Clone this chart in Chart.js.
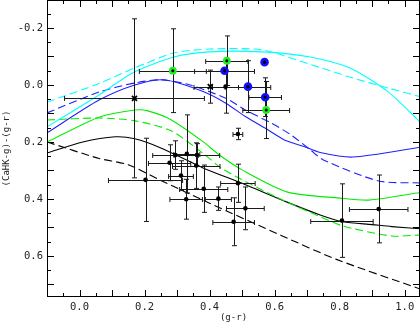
<!DOCTYPE html>
<html>
<head>
<meta charset="utf-8">
<script src="https://cdn.jsdelivr.net/npm/chart.js@4.4.0/dist/chart.umd.min.js"></script>
<style>
  body { margin: 0; background: #fff; }
</style>
</head>
<body>
<canvas id="chart" width="420" height="325"></canvas>
<script>
// model curves (g-r, (CaHK-g)-(g-r))
const cyanSolidX = [-0.10, 0.06, 0.17, 0.29, 0.40, 0.56, 0.71, 0.83, 0.95, 1.05];
const cyanSolidY = [0.147, 0.035, -0.046, -0.098, -0.116, -0.116, -0.098, -0.060, 0.025, 0.133];
const cyanDashX = [-0.10, 0.06, 0.17, 0.29, 0.40, 0.56, 0.71, 0.83, 0.95, 1.05];
const cyanDashY = [0.060, -0.005, -0.060, -0.112, -0.126, -0.123, -0.072, -0.028, 0.011, 0.042];
const blueSolidX = [-0.10, 0.06, 0.17, 0.26, 0.38, 0.45, 0.51, 0.58, 0.63, 0.69, 0.74, 0.84, 1.05];
const blueSolidY = [0.168, 0.053, 0.000, -0.018, 0.023, 0.064, 0.111, 0.158, 0.193, 0.216, 0.237, 0.253, 0.218];
const blueDashX = [-0.10, 0.06, 0.17, 0.25, 0.34, 0.45, 0.51, 0.59, 0.65, 0.71, 0.75, 0.92, 1.05];
const blueDashY = [0.098, 0.025, -0.007, -0.018, 0.000, 0.047, 0.088, 0.134, 0.175, 0.228, 0.263, 0.337, 0.344];
const greenSolidX = [-0.10, 0.06, 0.17, 0.21, 0.28, 0.38, 0.43, 0.50, 0.64, 0.80, 0.89, 1.05];
const greenSolidY = [0.200, 0.113, 0.088, 0.091, 0.121, 0.199, 0.246, 0.298, 0.376, 0.397, 0.404, 0.377];
const greenDashX = [-0.10, 0.06, 0.17, 0.28, 0.38, 0.44, 0.61, 0.74, 0.81, 0.96, 1.05];
const greenDashY = [0.123, 0.116, 0.126, 0.160, 0.240, 0.295, 0.396, 0.462, 0.495, 0.530, 0.526];
const blackSolidX = [-0.10, 0.01, 0.11, 0.17, 0.25, 0.38, 0.50, 0.64, 0.74, 0.81, 0.90, 0.96, 1.05];
const blackSolidY = [0.239, 0.200, 0.182, 0.189, 0.221, 0.291, 0.345, 0.412, 0.456, 0.480, 0.490, 0.497, 0.505];
const blackDashX = [-0.10, 0.06, 0.15, 0.25, 0.40, 0.62, 0.79, 1.05];
const blackDashY = [0.200, 0.258, 0.280, 0.335, 0.415, 0.528, 0.612, 0.717];

// stars with error bars
const dotX = [0.449, 0.487, 0.203, 0.295, 0.330, 0.361, 0.277, 0.312, 0.359, 0.382, 0.328, 0.427, 0.487, 0.510, 0.474, 0.807, 0.920];
const dotY = [0.006, 0.172, 0.333, 0.246, 0.242, 0.246, 0.273, 0.318, 0.283, 0.364, 0.401, 0.399, 0.345, 0.433, 0.480, 0.476, 0.435];
const dotXErr = [0.040, 0.015, 0.114, 0.070, 0.040, 0.070, 0.065, 0.038, 0.073, 0.074, 0.050, 0.040, 0.053, 0.058, 0.064, 0.096, 0.090];
const dotYErr = [0.093, 0.020, 0.146, 0.050, 0.137, 0.040, 0.063, 0.052, 0.080, 0.083, 0.070, 0.041, 0.067, 0.075, 0.084, 0.129, 0.119];

const crossX = [0.169, 0.402];
const crossY = [0.047, 0.006];
const crossXErr = [0.215, 0.050];
const crossYErr = [0.279, 0.058];

const blueX = [0.446, 0.569, 0.518, 0.571];
const blueY = [-0.050, -0.080, 0.006, 0.043];
const blueXErr = [0.092, 0, 0.070, 0.050];
const blueYErr = [0, 0, 0.091, 0.068];

const greenX = [0.287, 0.453, 0.574];
const greenY = [-0.050, -0.085, 0.088];
const greenXErr = [0.103, 0.065, 0.072];
const greenYErr = [0.147, 0.087, 0.100];

function pts(xs, ys) {
  return xs.map((x, i) => ({ x: x, y: ys[i] }));
}

function line(xs, ys, color, dashed) {
  return {
    type: 'line',
    data: pts(xs, ys),
    borderColor: color,
    borderWidth: 1.1,
    borderDash: dashed ? [8, 4] : [],
    pointRadius: 0,
    tension: 0.25,
    fill: false
  };
}

const errGroups = [
  [dotX, dotY, dotXErr, dotYErr],
  [crossX, crossY, crossXErr, crossYErr],
  [blueX, blueY, blueXErr, blueYErr],
  [greenX, greenY, greenXErr, greenYErr]
];

// error bars go between the curves and the symbols
const errorBars = {
  id: 'errorBars',
  afterDatasetDraw(chart, args) {
    if (args.index !== 4) return;
    const { ctx, scales: { x, y } } = chart;
    const cap = 2.5;
    ctx.save();
    ctx.strokeStyle = '#1a1a1a';
    ctx.lineWidth = 1;
    ctx.beginPath();
    errGroups.forEach(g => {
      g[0].forEach((xv, i) => {
        const px = Math.round(x.getPixelForValue(xv)) + 0.5;
        const py = Math.round(y.getPixelForValue(g[1][i])) + 0.5;
        if (g[2][i] > 0) {
          const x1 = x.getPixelForValue(xv - g[2][i]);
          const x2 = x.getPixelForValue(xv + g[2][i]);
          ctx.moveTo(x1, py); ctx.lineTo(x2, py);
          ctx.moveTo(x1, py - cap); ctx.lineTo(x1, py + cap);
          ctx.moveTo(x2, py - cap); ctx.lineTo(x2, py + cap);
        }
        if (g[3][i] > 0) {
          const y1 = y.getPixelForValue(g[1][i] - g[3][i]);
          const y2 = y.getPixelForValue(g[1][i] + g[3][i]);
          ctx.moveTo(px, y1); ctx.lineTo(px, y2);
          ctx.moveTo(px - cap, y1); ctx.lineTo(px + cap, y1);
          ctx.moveTo(px - cap, y2); ctx.lineTo(px + cap, y2);
        }
      });
    });
    ctx.stroke();
    ctx.restore();
  }
};

// frame with inward ticks on all four sides
const frameTicks = {
  id: 'frameTicks',
  afterDraw(chart) {
    const { ctx, chartArea: a, scales: { x, y } } = chart;
    ctx.save();
    ctx.strokeStyle = '#000';
    ctx.lineWidth = 1;
    ctx.strokeRect(a.left + 0.5, a.top + 0.5, a.right - a.left - 1, a.bottom - a.top - 1);
    ctx.beginPath();
    for (let k = Math.ceil(x.min / 0.05 - 1e-6); k * 0.05 <= x.max + 1e-6; k++) {
      const p = Math.round(x.getPixelForValue(k * 0.05)) + 0.5;
      const len = k % 2 === 0 ? 7 : 4;
      ctx.moveTo(p, a.bottom); ctx.lineTo(p, a.bottom - len);
      ctx.moveTo(p, a.top); ctx.lineTo(p, a.top + len);
    }
    for (let k = Math.ceil(y.min / 0.05 - 1e-6); k * 0.05 <= y.max + 1e-6; k++) {
      const p = Math.round(y.getPixelForValue(k * 0.05)) + 0.5;
      const len = k % 2 === 0 ? 7 : 4;
      ctx.moveTo(a.left, p); ctx.lineTo(a.left + len, p);
      ctx.moveTo(a.right, p); ctx.lineTo(a.right - len, p);
    }
    ctx.stroke();
    ctx.restore();
  }
};

const tickFont = { family: 'DejaVu Sans Mono', size: 10.5 };
const titleFont = { family: 'DejaVu Sans Mono', size: 9 };

new Chart(document.getElementById('chart'), {
  type: 'scatter',
  data: {
    datasets: [
      { data: pts(blueX, blueY), pointStyle: 'circle', pointRadius: 3, backgroundColor: '#000', borderColor: '#1010ff', pointBorderWidth: 2.6 },
      { data: pts(greenX, greenY), pointStyle: 'circle', pointRadius: 2.7, backgroundColor: '#000', borderColor: '#22ee22', pointBorderWidth: 2.4 },
      { data: pts(crossX, crossY), pointStyle: 'crossRot', pointRadius: 3.5, borderColor: '#000', pointBorderWidth: 1.8 },
      { data: pts(dotX, dotY), pointStyle: 'circle', pointRadius: 2.3, backgroundColor: '#000', borderColor: '#000', pointBorderWidth: 0 },
      line(cyanSolidX, cyanSolidY, '#00ffff', false),
      line(cyanDashX, cyanDashY, '#00ffff', true),
      line(blueSolidX, blueSolidY, '#2020ff', false),
      line(blueDashX, blueDashY, '#2020ff', true),
      line(greenSolidX, greenSolidY, '#00ee00', false),
      line(greenDashX, greenDashY, '#00ee00', true),
      line(blackSolidX, blackSolidY, '#000000', false),
      line(blackDashX, blackDashY, '#000000', true)
    ]
  },
  options: {
    responsive: false,
    animation: false,
    layout: { padding: 0, autoPadding: false },
    plugins: { legend: { display: false }, tooltip: { enabled: false } },
    scales: {
      x: {
        type: 'linear',
        min: -0.1,
        max: 1.047,
        grid: { display: false, drawTicks: false },
        border: { display: false },
        ticks: {
          stepSize: 0.2,
          includeBounds: false,
          padding: 4,
          font: tickFont,
          color: '#222',
          maxRotation: 0,
          callback: v => v.toFixed(1)
        },
        title: { display: true, text: '(g-r)', font: titleFont, color: '#222', padding: { top: 0, bottom: 1.5 } },
        afterFit: s => { s.height = 28; s.paddingLeft = 0; s.paddingRight = 0; }
      },
      y: {
        type: 'linear',
        reverse: true,
        min: -0.298,
        max: 0.744,
        grid: { display: false, drawTicks: false },
        border: { display: false },
        ticks: {
          stepSize: 0.2,
          includeBounds: false,
          padding: 4,
          font: tickFont,
          color: '#222',
          callback: v => v.toFixed(1)
        },
        title: { display: true, text: '(CaHK-g)-(g-r)', font: titleFont, color: '#222', padding: { top: 1.5, bottom: 0 } },
        afterFit: s => { s.width = 47; s.paddingTop = 0; s.paddingBottom = 0; }
      }
    }
  },
  plugins: [errorBars, frameTicks]
});
</script>
</body>
</html>
